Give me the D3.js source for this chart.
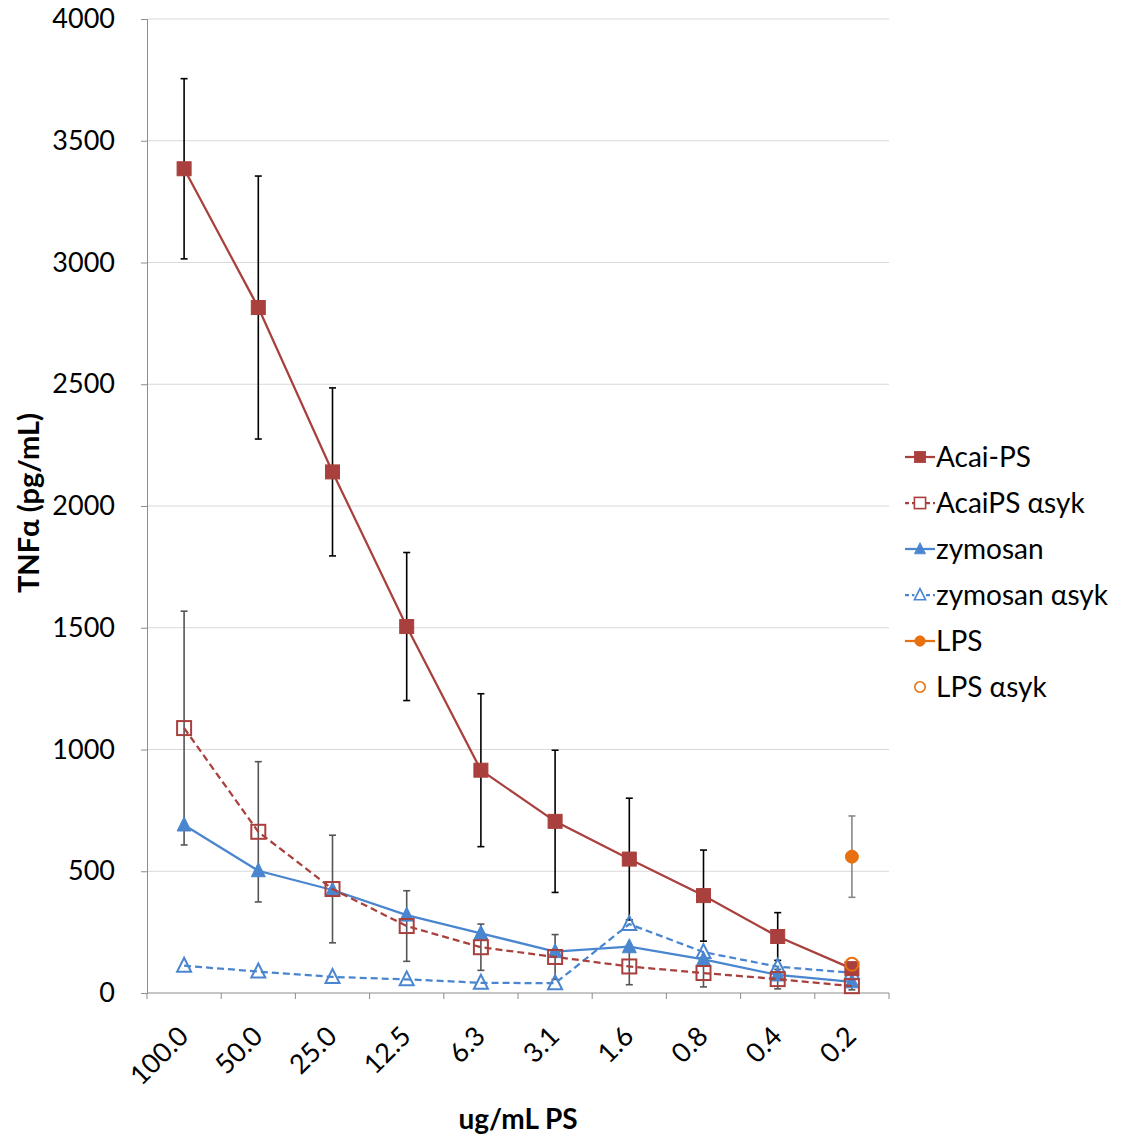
<!DOCTYPE html>
<html>
<head>
<meta charset="utf-8">
<script src="https://cdn.jsdelivr.net/npm/d3@7/dist/d3.min.js"></script>
<style>
  html, body { margin: 0; padding: 0; background: #fff; }
  svg { display: block; font-family: Lato, "Open Sans", sans-serif; }
</style>
</head>
<body>
<svg id="chart" width="1129" height="1139"></svg>
<script>
// Concentration categories (ug/mL PS)
const categories = ["100.0", "50.0", "25.0", "12.5", "6.3", "3.1", "1.6", "0.8", "0.4", "0.2"];

// TNFα (pg/mL) per series, with standard deviations
const acaiPS      = [3385, 2815, 2140, 1505, 915, 705, 550, 400, 232, 100];
const acaiPSErr   = [370, 540, 345, 304, 314, 292, 250, 187, 98, 20];
const acaiSyk     = [1088, 662, 427, 275, 188, 148, 109, 82, 57, 28];
const acaiSykErr  = [480, 288, 221, 145, 95, 92, 75, 57, 40, 15];
const zymosan     = [690, 502, 423, 320, 245, 170, 190, 138, 74, 46];
const zymosanSyk  = [112, 88, 66, 56, 42, 40, 283, 168, 108, 83];
const lps         = [null, null, null, null, null, null, null, null, null, 560];
const lpsErr      = [null, null, null, null, null, null, null, null, null, 167];
const lpsSyk      = [null, null, null, null, null, null, null, null, null, 118];

const yTicks = [0, 500, 1000, 1500, 2000, 2500, 3000, 3500, 4000];

const RED = "#A9403D", BLUE = "#4A86CF", ORANGE = "#E8700F";

const series = [
  { name: "Acai-PS",        values: acaiPS,     color: RED,    marker: "square",   filled: true,  dash: null },
  { name: "AcaiPS \u03b1syk", values: acaiSyk,  color: RED,    marker: "square",   filled: false, dash: "7,4" },
  { name: "zymosan",        values: zymosan,    color: BLUE,   marker: "triangle", filled: true,  dash: null },
  { name: "zymosan \u03b1syk", values: zymosanSyk, color: BLUE, marker: "triangle", filled: false, dash: "7,4" },
  { name: "LPS",            values: lps,        color: ORANGE, marker: "circle",   filled: true,  dash: null },
  { name: "LPS \u03b1syk",  values: lpsSyk,     color: ORANGE, marker: "circle",   filled: false, dash: null, noLine: true }
];

const errorBars = [
  { values: acaiSyk, err: acaiSykErr, color: "#555" },
  { values: lps,     err: lpsErr,     color: "#888" },
  { values: acaiPS,  err: acaiPSErr,  color: "#000" }
];

const svg = d3.select("#chart");
const plot = { left: 147, right: 889, top: 19, bottom: 993 };

const x = d3.scaleBand().domain(categories).range([plot.left, plot.right]).padding(0);
const cx = c => x(c) + x.bandwidth() / 2;
const y = d3.scaleLinear().domain([0, 4000]).range([plot.bottom, plot.top]);

// Horizontal gridlines
svg.append("g").selectAll("line").data(yTicks.filter(t => t > 0)).join("line")
  .attr("x1", plot.left).attr("x2", plot.right)
  .attr("y1", d => y(d)).attr("y2", d => y(d))
  .attr("stroke", "#D9D9D9").attr("stroke-width", 1);

// Y axis
const yAxis = svg.append("g").attr("transform", `translate(${plot.left},0)`)
  .call(d3.axisLeft(y).tickValues(yTicks).tickSize(6).tickPadding(26).tickFormat(d3.format("d")));
yAxis.select(".domain").attr("stroke", "#8C8C8C");
yAxis.selectAll(".tick line").attr("stroke", "#8C8C8C");
yAxis.selectAll(".tick text").attr("font-size", 27).attr("fill", "#000")
  .attr("font-family", "Lato, sans-serif");

// X axis with ticks on category boundaries
const xg = svg.append("g");
xg.append("line").attr("x1", plot.left).attr("x2", plot.right)
  .attr("y1", plot.bottom).attr("y2", plot.bottom).attr("stroke", "#8C8C8C");
const boundaries = categories.map(c => x(c)).concat([plot.right]);
xg.selectAll("line.tk").data(boundaries).join("line").attr("class", "tk")
  .attr("x1", d => d).attr("x2", d => d)
  .attr("y1", plot.bottom).attr("y2", plot.bottom + 6).attr("stroke", "#8C8C8C");
xg.selectAll("text").data(categories).join("text")
  .attr("transform", d => `translate(${cx(d) + 6},${plot.bottom + 45}) rotate(-45)`)
  .attr("text-anchor", "end")
  .attr("font-size", 27)
  .attr("fill", "#000")
  .text(d => d);

// Axis titles
svg.append("text")
  .attr("transform", `translate(39,503) rotate(-90)`)
  .attr("text-anchor", "middle").attr("font-size", 29).attr("font-weight", "bold")
  .text("TNF\u03b1 (pg/mL)");
svg.append("text")
  .attr("x", 518).attr("y", 1129)
  .attr("text-anchor", "middle").attr("font-size", 28).attr("font-weight", "bold")
  .text("ug/mL PS");

// Marker drawing
function drawMarker(g, type, px, py, color, filled) {
  const s = 7;
  let m;
  if (type === "square") {
    m = g.append("rect").attr("x", px - s).attr("y", py - s).attr("width", 2 * s).attr("height", 2 * s);
  } else if (type === "triangle") {
    m = g.append("path").attr("d", `M${px},${py - s - 1}L${px + s},${py + s - 1}L${px - s},${py + s - 1}Z`);
  } else {
    m = g.append("circle").attr("cx", px).attr("cy", py).attr("r", 6.5);
  }
  m.attr("fill", filled ? color : "none").attr("stroke", color).attr("stroke-width", filled ? 1 : 2);
}

// Error bars
const eg = svg.append("g");
errorBars.forEach(eb => {
  categories.forEach((c, i) => {
    const v = eb.values[i], e = eb.err[i];
    if (v == null || e == null) return;
    const px = cx(c);
    eg.append("line").attr("x1", px).attr("x2", px).attr("y1", y(v + e)).attr("y2", y(v - e))
      .attr("stroke", eb.color).attr("stroke-width", 1.6);
    [v + e, v - e].forEach(w => {
      eg.append("line").attr("x1", px - 3.5).attr("x2", px + 3.5).attr("y1", y(w)).attr("y2", y(w))
        .attr("stroke", eb.color).attr("stroke-width", 1.6);
    });
  });
});

// Series lines and markers (drawn back to front)
const order = [3, 2, 1, 0, 4, 5];
const line = d3.line().defined(d => d.v != null).x(d => cx(d.c)).y(d => y(d.v));
order.forEach(k => {
  const s = series[k];
  const g = svg.append("g");
  const pts = categories.map((c, i) => ({ c, v: s.values[i] }));
  if (!s.noLine) {
    g.append("path").datum(pts).attr("d", line).attr("fill", "none")
      .attr("stroke", s.color).attr("stroke-width", 2.25)
      .attr("stroke-dasharray", s.dash);
  }
  pts.filter(p => p.v != null).forEach(p => {
    drawMarker(g, s.marker, cx(p.c), y(p.v), s.color, s.filled);
  });
});

// Legend
const lg = svg.append("g");
series.forEach((s, i) => {
  const ly = 457 + i * 46;
  if (!s.noLine) {
    lg.append("line").attr("x1", 905).attr("x2", 935).attr("y1", ly).attr("y2", ly)
      .attr("stroke", s.color).attr("stroke-width", 2.25).attr("stroke-dasharray", s.dash ? "4,3" : null);
  }
  const g = lg.append("g").attr("transform", `translate(920,${ly}) scale(0.8) translate(-920,${-ly})`);
  if (!s.filled && s.marker !== "circle") g.append("rect")
    .attr("x", 913).attr("y", ly - 7).attr("width", 14).attr("height", 14).attr("fill", "#fff");
  drawMarker(g, s.marker, 920, ly, s.color, s.filled);
  lg.append("text").attr("x", 936).attr("y", ly + 10).attr("font-size", 28).text(s.name);
});
</script>
</body>
</html>
